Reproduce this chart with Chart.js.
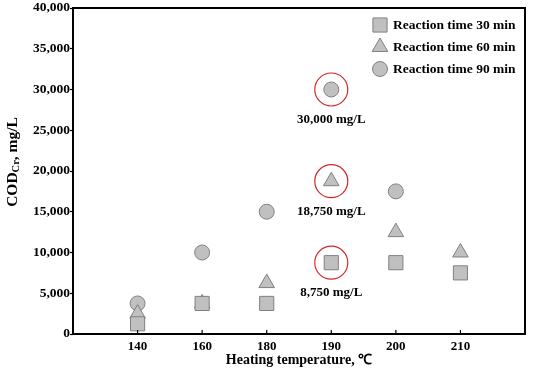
<!DOCTYPE html>
<html>
<head>
<meta charset="utf-8">
<script src="https://cdn.jsdelivr.net/npm/chart.js@4/dist/chart.umd.min.js"></script>
<style>
  html, body { margin: 0; padding: 0; background: #fff; }
  #wrap { width: 533px; height: 375px; }
</style>
</head>
<body>
<div id="wrap"><canvas id="codChart"></canvas></div>
<script>
// heating temperature categories (placed at x = 1..6)
const temps = ['140', '160', '180', '190', '200', '210'];

// COD_Cr (mg/L) per reaction time
const time30 = [1250, 3750, 3750, 8750, 8750, 7500];
const time60 = [2500, 3750, 6250, 18750, 12500, 10000];
const time90 = [3750, 10000, 15000, 30000, 17500, null];

const seriesNames = ['Reaction time 30 min', 'Reaction time 60 min', 'Reaction time 90 min'];

// highlighted points at 190 ℃
const highlightValues = [30000, 18750, 8750];
const highlightLabels = ['30,000 mg/L', '18,750 mg/L', '8,750 mg/L'];
const highlightTemp = '190';

const yTicks = [0, 5000, 10000, 15000, 20000, 25000, 30000, 35000, 40000];

const FONT = "'Liberation Serif', 'Times New Roman', serif";

const toPoints = (vals) => vals.map((v, i) => ({ x: i + 1, y: v }));

const markStyle = {
    backgroundColor: '#c0c0c0',
    borderColor: '#808080',
    borderWidth: 1,
    showLine: false
};

const datasets = [
    { label: seriesNames[0], data: toPoints(time30), pointStyle: 'rect', pointRadius: 10, ...markStyle },
    { label: seriesNames[1], data: toPoints(time60), pointStyle: 'triangle', pointRadius: 9, ...markStyle },
    { label: seriesNames[2], data: toPoints(time90), pointStyle: 'circle', pointRadius: 7.5, ...markStyle },
    {
        label: 'highlight',
        data: highlightValues.map(v => ({ x: temps.indexOf(highlightTemp) + 1, y: v })),
        pointStyle: 'circle',
        pointRadius: 16.5,
        backgroundColor: 'rgba(0,0,0,0)',
        borderColor: '#d42a2a',
        borderWidth: 1.2,
        showLine: false
    }
];

// box, inward x ticks, axis titles, legend, value labels
const decorations = {
    id: 'decorations',
    afterDatasetsDraw(chart) {
        const { ctx, chartArea: a, scales } = chart;
        ctx.save();

        ctx.strokeStyle = '#000';
        ctx.lineWidth = 2;
        ctx.strokeRect(a.left, a.top, a.right - a.left, a.bottom - a.top);

        ctx.lineWidth = 1.2;
        temps.forEach((t, i) => {
            const x = scales.x.getPixelForValue(i + 1);
            ctx.beginPath();
            ctx.moveTo(x, a.bottom);
            ctx.lineTo(x, a.bottom - 4);
            ctx.stroke();
        });

        // value labels under red circles
        ctx.fillStyle = '#000';
        ctx.font = 'bold 13px ' + FONT;
        ctx.textAlign = 'center';
        ctx.textBaseline = 'middle';
        const hx = scales.x.getPixelForValue(temps.indexOf(highlightTemp) + 1);
        highlightValues.forEach((v, i) => {
            const y = scales.y.getPixelForValue(v);
            ctx.fillText(highlightLabels[i], hx, y + 30);
        });

        // legend
        ctx.textAlign = 'left';
        ctx.font = 'bold 13.5px ' + FONT;
        chart.data.datasets.slice(0, 3).forEach((ds, i) => {
            const y = a.top + 17 + i * 22;
            const px = a.right - 145;
            ctx.fillStyle = ds.backgroundColor;
            ctx.strokeStyle = ds.borderColor;
            ctx.lineWidth = ds.borderWidth;
            Chart.helpers.drawPoint(ctx, { pointStyle: ds.pointStyle, radius: ds.pointRadius, borderWidth: 1 }, px, y);
            ctx.fillStyle = '#000';
            ctx.fillText(ds.label, px + 13, y + 1);
        });

        // x title
        ctx.font = 'bold 14px ' + FONT;
        ctx.textAlign = 'center';
        ctx.fillText('Heating temperature, ℃', (a.left + a.right) / 2, 360);

        // y title with subscript
        const parts = [
            { t: 'COD', f: 'bold 15.5px ' + FONT, dy: 0 },
            { t: 'Cr', f: 'bold 10.5px ' + FONT, dy: 3.5 },
            { t: ', mg/L', f: 'bold 15.5px ' + FONT, dy: 0 }
        ];
        let total = 0;
        parts.forEach(p => { ctx.font = p.f; p.w = ctx.measureText(p.t).width; total += p.w; });
        ctx.translate(13, 162);
        ctx.rotate(-Math.PI / 2);
        ctx.textAlign = 'left';
        let cx = -total / 2;
        parts.forEach(p => {
            ctx.font = p.f;
            ctx.fillText(p.t, cx, p.dy);
            cx += p.w;
        });

        ctx.restore();
    }
};

const ctx = document.getElementById('codChart').getContext('2d');

const codChart = new Chart(ctx, {
    type: 'scatter',
    data: { datasets: datasets },
    options: {
        responsive: true,
        maintainAspectRatio: false,
        animation: false,
        layout: { autoPadding: false, padding: { top: 8, right: 8, left: 0, bottom: 0 } },
        plugins: {
            legend: { display: false },
            tooltip: { enabled: false }
        },
        scales: {
            x: {
                type: 'linear',
                min: 0,
                max: temps.length + 1,
                afterBuildTicks: (scale) => {
                    scale.ticks = temps.map((t, i) => ({ value: i + 1 }));
                },
                afterFit: (scale) => {
                    scale.height = 41;
                    scale.paddingLeft = 0;
                    scale.paddingRight = 0;
                },
                ticks: {
                    autoSkip: false,
                    maxRotation: 0,
                    padding: 5,
                    color: '#000',
                    font: { family: FONT, size: 13, weight: 'bold' },
                    callback: (v) => temps[v - 1] ?? ''
                },
                grid: { display: false, drawTicks: false },
                border: { display: false }
            },
            y: {
                min: 0,
                max: 40000,
                afterBuildTicks: (scale) => {
                    scale.ticks = yTicks.map(v => ({ value: v }));
                },
                afterFit: (scale) => {
                    scale.width = 73;
                    scale.paddingTop = 0;
                    scale.paddingBottom = 0;
                },
                ticks: {
                    padding: 0,
                    color: '#000',
                    font: { family: FONT, size: 13.5, weight: 'bold' },
                    callback: (v) => v.toLocaleString('en-US')
                },
                grid: {
                    drawOnChartArea: false,
                    drawTicks: true,
                    tickLength: 3,
                    tickWidth: 1.2,
                    tickColor: '#000'
                },
                border: { display: false }
            }
        }
    },
    plugins: [decorations]
});
</script>
</body>
</html>
